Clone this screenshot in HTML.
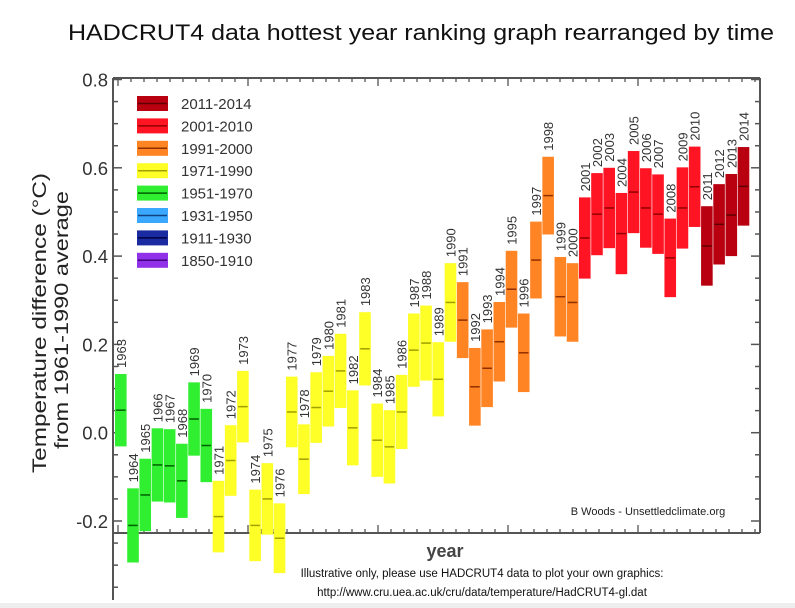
<!DOCTYPE html>
<html><head><meta charset="utf-8"><style>
body{margin:0;background:#fff;}
svg{display:block;font-family:"Liberation Sans",sans-serif;}
</style></head><body>
<svg id="chart" width="795" height="608">
<rect x="0" y="603" width="795" height="5" fill="#eeeeee"/>
<text x="68" y="40" font-size="22" textLength="706" lengthAdjust="spacingAndGlyphs" fill="#111">HADCRUT4 data hottest year ranking graph rearranged by time</text>
<g id="axes"></g>
<g id="bars"></g>
<g id="legend"></g>
<text transform="translate(46,323) rotate(-90)" font-size="19" text-anchor="middle" textLength="300" lengthAdjust="spacingAndGlyphs" fill="#222">Temperature difference (°C)</text>
<text transform="translate(68,320) rotate(-90)" font-size="19" text-anchor="middle" textLength="258" lengthAdjust="spacingAndGlyphs" fill="#222">from 1961-1990 average</text>
<text x="445" y="557" font-size="18" font-weight="bold" text-anchor="middle" fill="#444">year</text>
<text x="648" y="515" font-size="11" text-anchor="middle" fill="#222">B Woods - Unsettledclimate.org</text>
<text x="482" y="577" font-size="11.5" text-anchor="middle" fill="#111">Illustrative only, please use HADCRUT4 data to plot your own graphics:</text>
<text x="482" y="596" font-size="11.5" text-anchor="middle" fill="#111">http://www.cru.uea.ac.uk/cru/data/temperature/HadCRUT4-gl.dat</text>
</svg>
<script>
const years=[1963,1964,1965,1966,1967,1968,1969,1970,1971,1972,1973,1974,1975,1976,1977,1978,1979,1980,1981,1982,1983,1984,1985,1986,1987,1988,1989,1990,1991,1992,1993,1994,1995,1996,1997,1998,1999,2000,2001,2002,2003,2004,2005,2006,2007,2008,2009,2010,2011,2012,2013,2014];
const anomaly=[0.051,-0.21,-0.141,-0.073,-0.075,-0.109,0.031,-0.029,-0.19,-0.063,0.059,-0.21,-0.15,-0.239,0.047,-0.06,0.057,0.094,0.14,0.011,0.19,-0.017,-0.032,0.047,0.187,0.203,0.121,0.295,0.255,0.104,0.146,0.206,0.325,0.181,0.391,0.537,0.308,0.295,0.441,0.495,0.509,0.451,0.545,0.509,0.495,0.396,0.509,0.557,0.423,0.472,0.493,0.558];
const uncertainty=[0.082,0.084,0.082,0.083,0.083,0.084,0.083,0.083,0.081,0.08,0.081,0.081,0.081,0.079,0.08,0.079,0.08,0.08,0.084,0.085,0.083,0.083,0.083,0.084,0.083,0.085,0.084,0.089,0.086,0.088,0.088,0.09,0.087,0.089,0.087,0.088,0.09,0.089,0.092,0.093,0.091,0.092,0.093,0.09,0.09,0.089,0.092,0.091,0.09,0.091,0.093,0.089];
const yTicks=[-0.2,0.0,0.2,0.4,0.6,0.8];
const yTickLabels=["-0.2","0.0","0.2","0.4","0.6","0.8"];
const legendLabels=["2011-2014","2001-2010","1991-2000","1971-1990","1951-1970","1931-1950","1911-1930","1850-1910"];
const legendColors=["#b80010","#ff1424","#ff8424","#ffff28","#30ee30","#3aa8ff","#1a2aa0","#9030e8"];
const legendLines=["#600000","#900000","#903000","#a0a000","#006000","#104080","#000040","#400080"];

const NS="http://www.w3.org/2000/svg";
function el(tag,attrs,parent){const e=document.createElementNS(NS,tag);for(const k in attrs)e.setAttribute(k,attrs[k]);parent.appendChild(e);return e;}
const X0=115,PITCH=12.21,BW=11.6;
function xs(i){return X0+i*PITCH;}
function ys(v){return 432.7-v*441.5;}
function groupIdx(y){if(y>=2011)return 0;if(y>=2001)return 1;if(y>=1991)return 2;if(y>=1971)return 3;if(y>=1951)return 4;if(y>=1931)return 5;if(y>=1911)return 6;return 7;}

const axes=document.getElementById('axes');
const L=113,R=760,T=78,B=533;
let a=el('line',{x1:L,y1:T,x2:L,y2:600,stroke:'#555','stroke-width':2},axes);

a=el('line',{x1:R,y1:T,x2:R,y2:B,stroke:'#555','stroke-width':2},axes);

a=el('line',{x1:L,y1:T,x2:R,y2:T,stroke:'#555','stroke-width':2},axes);

a=el('line',{x1:L,y1:B,x2:R,y2:B,stroke:'#555','stroke-width':2},axes);

for(let v=-0.35;v<=0.8001;v+=0.05){
  const y=ys(v);const major=Math.abs(Math.round(v*10)/10-v)<0.001&&Math.round(v*10)%2===0;
  const t=el('line',{x1:L,y1:y,x2:L+(major?9:5),y2:y,stroke:'#555','stroke-width':1.5},axes);
  
  if(y<B){const t2=el('line',{x1:R,y1:y,x2:R-(major?9:5),y2:y,stroke:'#555','stroke-width':1.5},axes);
  }
}
yTicks.forEach((v,i)=>{const t=el('text',{x:L-5,y:ys(v)+7,'font-size':18.5,'text-anchor':'end',fill:'#333'},axes);t.textContent=yTickLabels[i];
});
for(let k=0;k<=49;k++){const x=L+5+k*13;if(x>R)break;const major=(k%10===0);
  const t=el('line',{x1:x,y1:B,x2:x,y2:B-(major?8:4),stroke:'#555','stroke-width':1.3},axes);
  
  const t2=el('line',{x1:x,y1:T,x2:x,y2:T+(major?8:4),stroke:'#555','stroke-width':1.3},axes);
  }

const bars=document.getElementById('bars');
years.forEach((yr,i)=>{
  const g=groupIdx(yr);const x=xs(i);const top=ys(anomaly[i]+uncertainty[i]);const bot=ys(anomaly[i]-uncertainty[i]);
  const r=el('rect',{x:x,y:top,width:BW,height:bot-top,fill:legendColors[g]},bars);
  
  const c=el('line',{x1:x+1,x2:x+BW-1,y1:ys(anomaly[i]),y2:ys(anomaly[i]),stroke:legendLines[g],'stroke-width':1.5},bars);
  
  const t=el('text',{transform:'translate('+(x+BW/2+5)+','+(top-6)+') rotate(-90)','font-size':13,fill:'#333'},bars);
  t.textContent=yr;
  
});

const lg=document.getElementById('legend');
legendLabels.forEach((lab,i)=>{const y=103+i*22.4;
  const s=el('rect',{x:137,y:y-7,width:31,height:15,fill:legendColors[i]},lg);
  
  const l=el('line',{x1:138,x2:167,y1:y+0.5,y2:y+0.5,stroke:legendLines[i],'stroke-width':1.5},lg);
  
  const t=el('text',{x:181,y:y+6,'font-size':15,fill:'#333'},lg);t.textContent=lab;
  });
</script>
</body></html>
